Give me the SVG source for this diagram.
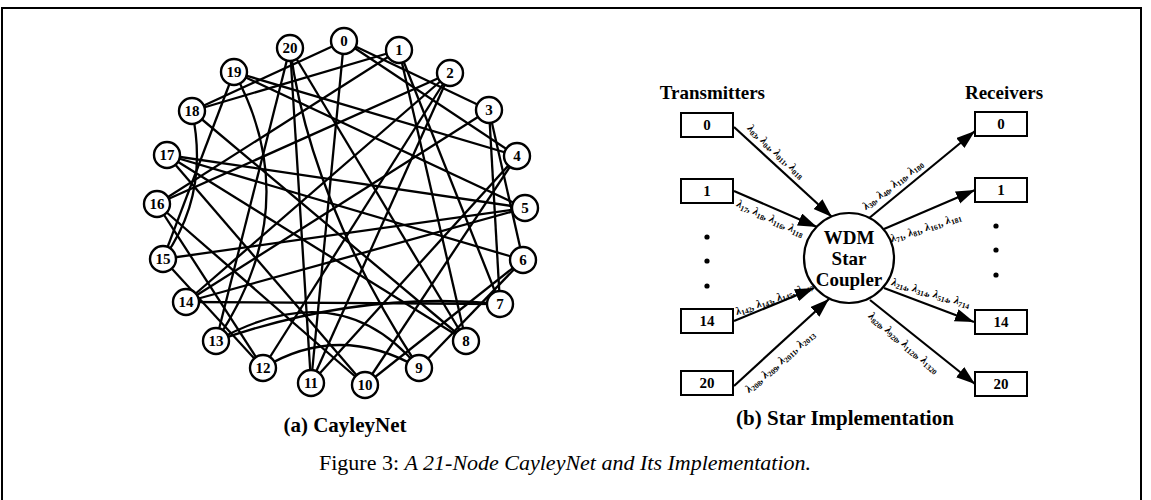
<svg xmlns="http://www.w3.org/2000/svg" width="1151" height="500" viewBox="0 0 1151 500">
<style>
  .frame{fill:none;stroke:#000;stroke-width:2}
  .edge{fill:none;stroke:#000;stroke-width:2.3}
  .node circle{fill:#fff;stroke:#000;stroke-width:2.4}
  .nlab{font-family:"Liberation Serif",serif;font-weight:bold;font-size:15px;text-anchor:middle}
  .box rect{fill:#fff;stroke:#000;stroke-width:2}
  .blab{font-family:"Liberation Serif",serif;font-weight:bold;font-size:15px;text-anchor:middle}
  .title{font-family:"Liberation Serif",serif;font-weight:bold;font-size:19px}
  .sub{font-family:"Liberation Serif",serif;font-weight:bold;font-size:21px;text-anchor:middle}
  .arrow{fill:none;stroke:#000;stroke-width:2.2;marker-end:url(#head)}
  .wl{font-family:"Liberation Serif",serif;font-style:italic;font-weight:bold;font-size:11px}
  .wl tspan.s{font-size:7.5px;font-style:normal}
  .cap{font-family:"Liberation Serif",serif;font-size:22px;text-anchor:middle}
  .dot{fill:#000}
</style>
<defs>
  <marker id="head" markerUnits="userSpaceOnUse" markerWidth="22" markerHeight="16" refX="19" refY="6.5" orient="auto">
    <path d="M0,0 L19,6.5 L0,13 z" fill="#000"/>
  </marker>
</defs>

<path class="frame" d="M2,500 V8 H1141 V500"/>

<!-- (a) 21-node Cayley graph -->
<g id="edges">
  <path class="edge" d="M344,41 L489,110"/>
  <path class="edge" d="M344,41 L517,156"/>
  <path class="edge" d="M344,41 L311,383"/>
  <path class="edge" d="M344,41 L192,111"/>
  <path class="edge" d="M399,50 L500,304"/>
  <path class="edge" d="M399,50 L466,341"/>
  <path class="edge" d="M399,50 L157,204"/>
  <path class="edge" d="M399,50 L192,111"/>
  <path class="edge" d="M450,73 L311,383"/>
  <path class="edge" d="M450,73 L263,368"/>
  <path class="edge" d="M450,73 L186,302"/>
  <path class="edge" d="M450,73 L157,204"/>
  <path class="edge" d="M489,110 L523,260"/>
  <path class="edge" d="M489,110 L500,304"/>
  <path class="edge" d="M489,110 L186,302"/>
  <path class="edge" d="M517,156 L365,385"/>
  <path class="edge" d="M517,156 L311,383"/>
  <path class="edge" d="M517,156 L234,72"/>
  <path class="edge" d="M525,208 L186,302"/>
  <path class="edge" d="M525,208 L163,259"/>
  <path class="edge" d="M525,208 L167,155"/>
  <path class="edge" d="M525,208 L234,72"/>
  <path class="edge" d="M523,260 L419,368"/>
  <path class="edge" d="M523,260 L365,385"/>
  <path class="edge" d="M523,260 L167,155"/>
  <path class="edge" d="M500,304 Q360,290 216,341"/>
  <path class="edge" d="M500,304 L186,302"/>
  <path class="edge" d="M466,341 L167,155"/>
  <path class="edge" d="M466,341 L192,111"/>
  <path class="edge" d="M466,341 L290,48"/>
  <path class="edge" d="M419,368 Q339,322 263,368"/>
  <path class="edge" d="M419,368 Q340,272 216,341"/>
  <path class="edge" d="M419,368 Q310,200 290,48"/>
  <path class="edge" d="M365,385 L157,204"/>
  <path class="edge" d="M365,385 L167,155"/>
  <path class="edge" d="M311,383 L290,48"/>
  <path class="edge" d="M263,368 L163,259"/>
  <path class="edge" d="M263,368 L157,204"/>
  <path class="edge" d="M216,341 Q307,206 234,72"/>
  <path class="edge" d="M216,341 L290,48"/>
  <path class="edge" d="M163,259 Q210,195 192,111"/>
  <path class="edge" d="M163,259 L234,72"/>
</g>

<g id="n0" class="node"><circle cx="344" cy="41" r="13"/><text class="nlab" x="344" y="46">0</text></g>
<g id="n1" class="node"><circle cx="399" cy="50" r="13"/><text class="nlab" x="399" y="55">1</text></g>
<g id="n2" class="node"><circle cx="450" cy="73" r="13"/><text class="nlab" x="450" y="78">2</text></g>
<g id="n3" class="node"><circle cx="489" cy="110" r="13"/><text class="nlab" x="489" y="115">3</text></g>
<g id="n4" class="node"><circle cx="517" cy="156" r="13"/><text class="nlab" x="517" y="161">4</text></g>
<g id="n5" class="node"><circle cx="525" cy="208" r="13"/><text class="nlab" x="525" y="213">5</text></g>
<g id="n6" class="node"><circle cx="523" cy="260" r="13"/><text class="nlab" x="523" y="265">6</text></g>
<g id="n7" class="node"><circle cx="500" cy="304" r="13"/><text class="nlab" x="500" y="309">7</text></g>
<g id="n8" class="node"><circle cx="466" cy="341" r="13"/><text class="nlab" x="466" y="346">8</text></g>
<g id="n9" class="node"><circle cx="419" cy="368" r="13"/><text class="nlab" x="419" y="373">9</text></g>
<g id="n10" class="node"><circle cx="365" cy="385" r="13"/><text class="nlab" x="365" y="390">10</text></g>
<g id="n11" class="node"><circle cx="311" cy="383" r="13"/><text class="nlab" x="311" y="388">11</text></g>
<g id="n12" class="node"><circle cx="263" cy="368" r="13"/><text class="nlab" x="263" y="373">12</text></g>
<g id="n13" class="node"><circle cx="216" cy="341" r="13"/><text class="nlab" x="216" y="346">13</text></g>
<g id="n14" class="node"><circle cx="186" cy="302" r="13"/><text class="nlab" x="186" y="307">14</text></g>
<g id="n15" class="node"><circle cx="163" cy="259" r="13"/><text class="nlab" x="163" y="264">15</text></g>
<g id="n16" class="node"><circle cx="157" cy="204" r="13"/><text class="nlab" x="157" y="209">16</text></g>
<g id="n17" class="node"><circle cx="167" cy="155" r="13"/><text class="nlab" x="167" y="160">17</text></g>
<g id="n18" class="node"><circle cx="192" cy="111" r="13"/><text class="nlab" x="192" y="116">18</text></g>
<g id="n19" class="node"><circle cx="234" cy="72" r="13"/><text class="nlab" x="234" y="77">19</text></g>
<g id="n20" class="node"><circle cx="290" cy="48" r="13"/><text class="nlab" x="290" y="53">20</text></g>

<text class="sub" x="345" y="432">(a) CayleyNet</text>

<!-- (b) star implementation -->
<text class="title" x="765" y="99" text-anchor="end">Transmitters</text>
<text class="title" x="1004" y="99" text-anchor="middle">Receivers</text>

<g id="connectors">
  <path class="arrow" d="M734,127 L832,217"/>
  <path class="arrow" d="M734,191 L817,227"/>
  <path class="arrow" d="M734,321 L814,288"/>
  <path class="arrow" d="M734,386 L829,299"/>
  <path class="arrow" d="M868,219 L975,131"/>
  <path class="arrow" d="M884,229 L975,190"/>
  <path class="arrow" d="M884,288 L974,322"/>
  <path class="arrow" d="M870,300 L975,384"/>
</g>

<g id="t0" class="box"><rect x="681" y="113" width="52" height="24"/><text class="blab" x="707" y="130">0</text></g>
<g id="t1" class="box"><rect x="681" y="179" width="52" height="24"/><text class="blab" x="707" y="196">1</text></g>
<g id="t14" class="box"><rect x="681" y="309" width="52" height="24"/><text class="blab" x="707" y="326">14</text></g>
<g id="t20" class="box"><rect x="681" y="371" width="52" height="24"/><text class="blab" x="707" y="388">20</text></g>

<g id="r0" class="box"><rect x="975" y="112" width="52" height="24"/><text class="blab" x="1001" y="129">0</text></g>
<g id="r1" class="box"><rect x="975" y="178" width="52" height="24"/><text class="blab" x="1001" y="195">1</text></g>
<g id="r14" class="box"><rect x="975" y="310" width="52" height="24"/><text class="blab" x="1001" y="327">14</text></g>
<g id="r20" class="box"><rect x="975" y="372" width="52" height="24"/><text class="blab" x="1001" y="389">20</text></g>

<circle class="dot" cx="707" cy="237" r="2.6"/>
<circle class="dot" cx="707" cy="261" r="2.6"/>
<circle class="dot" cx="707" cy="286" r="2.6"/>
<circle class="dot" cx="996" cy="226" r="2.6"/>
<circle class="dot" cx="996" cy="250" r="2.6"/>
<circle class="dot" cx="996" cy="275" r="2.6"/>

<g id="coupler">
  <circle cx="849" cy="258" r="45" fill="#fff" stroke="#000" stroke-width="2.2"/>
  <text class="title" x="849" y="244" text-anchor="middle">WDM</text>
  <text class="title" x="849" y="265" text-anchor="middle">Star</text>
  <text class="title" x="849" y="286" text-anchor="middle">Coupler</text>
</g>

<!-- wavelength labels -->
<text class="wl" transform="translate(747,129) rotate(43)">λ<tspan class="s" dy="2">03</tspan><tspan dy="-2">, λ</tspan><tspan class="s" dy="2">04</tspan><tspan dy="-2">, λ</tspan><tspan class="s" dy="2">011</tspan><tspan dy="-2">, λ</tspan><tspan class="s" dy="2">018</tspan></text>
<text class="wl" transform="translate(736,206) rotate(25)">λ<tspan class="s" dy="2">17</tspan><tspan dy="-2">, λ</tspan><tspan class="s" dy="2">18</tspan><tspan dy="-2">, λ</tspan><tspan class="s" dy="2">116</tspan><tspan dy="-2">, λ</tspan><tspan class="s" dy="2">118</tspan></text>
<text class="wl" transform="translate(737,315) rotate(-19)">λ<tspan class="s" dy="2">142</tspan><tspan dy="-2">, λ</tspan><tspan class="s" dy="2">143</tspan><tspan dy="-2">, λ</tspan><tspan class="s" dy="2">145</tspan><tspan dy="-2">, λ</tspan><tspan class="s" dy="2">147</tspan></text>
<text class="wl" transform="translate(749,393) rotate(-41)">λ<tspan class="s" dy="2">208</tspan><tspan dy="-2">, λ</tspan><tspan class="s" dy="2">209</tspan><tspan dy="-2">, λ</tspan><tspan class="s" dy="2">2011</tspan><tspan dy="-2">, λ</tspan><tspan class="s" dy="2">2013</tspan></text>
<text class="wl" transform="translate(866,210) rotate(-38)">λ<tspan class="s" dy="2">30</tspan><tspan dy="-2">, λ</tspan><tspan class="s" dy="2">40</tspan><tspan dy="-2">, λ</tspan><tspan class="s" dy="2">110</tspan><tspan dy="-2">, λ</tspan><tspan class="s" dy="2">180</tspan></text>
<text class="wl" transform="translate(892,242) rotate(-18)">λ<tspan class="s" dy="2">71</tspan><tspan dy="-2">, λ</tspan><tspan class="s" dy="2">81</tspan><tspan dy="-2">, λ</tspan><tspan class="s" dy="2">161</tspan><tspan dy="-2">, λ</tspan><tspan class="s" dy="2">181</tspan></text>
<text class="wl" transform="translate(891,285) rotate(16)">λ<tspan class="s" dy="2">214</tspan><tspan dy="-2">, λ</tspan><tspan class="s" dy="2">314</tspan><tspan dy="-2">, λ</tspan><tspan class="s" dy="2">514</tspan><tspan dy="-2">, λ</tspan><tspan class="s" dy="2">714</tspan></text>
<text class="wl" transform="translate(868,317) rotate(40)">λ<tspan class="s" dy="2">820</tspan><tspan dy="-2">, λ</tspan><tspan class="s" dy="2">920</tspan><tspan dy="-2">, λ</tspan><tspan class="s" dy="2">1120</tspan><tspan dy="-2">, λ</tspan><tspan class="s" dy="2">1320</tspan></text>

<text class="sub" x="845" y="425">(b) Star Implementation</text>

<text class="cap" x="565" y="470">Figure 3: <tspan font-style="italic">A 21-Node CayleyNet and Its Implementation.</tspan></text>
</svg>
